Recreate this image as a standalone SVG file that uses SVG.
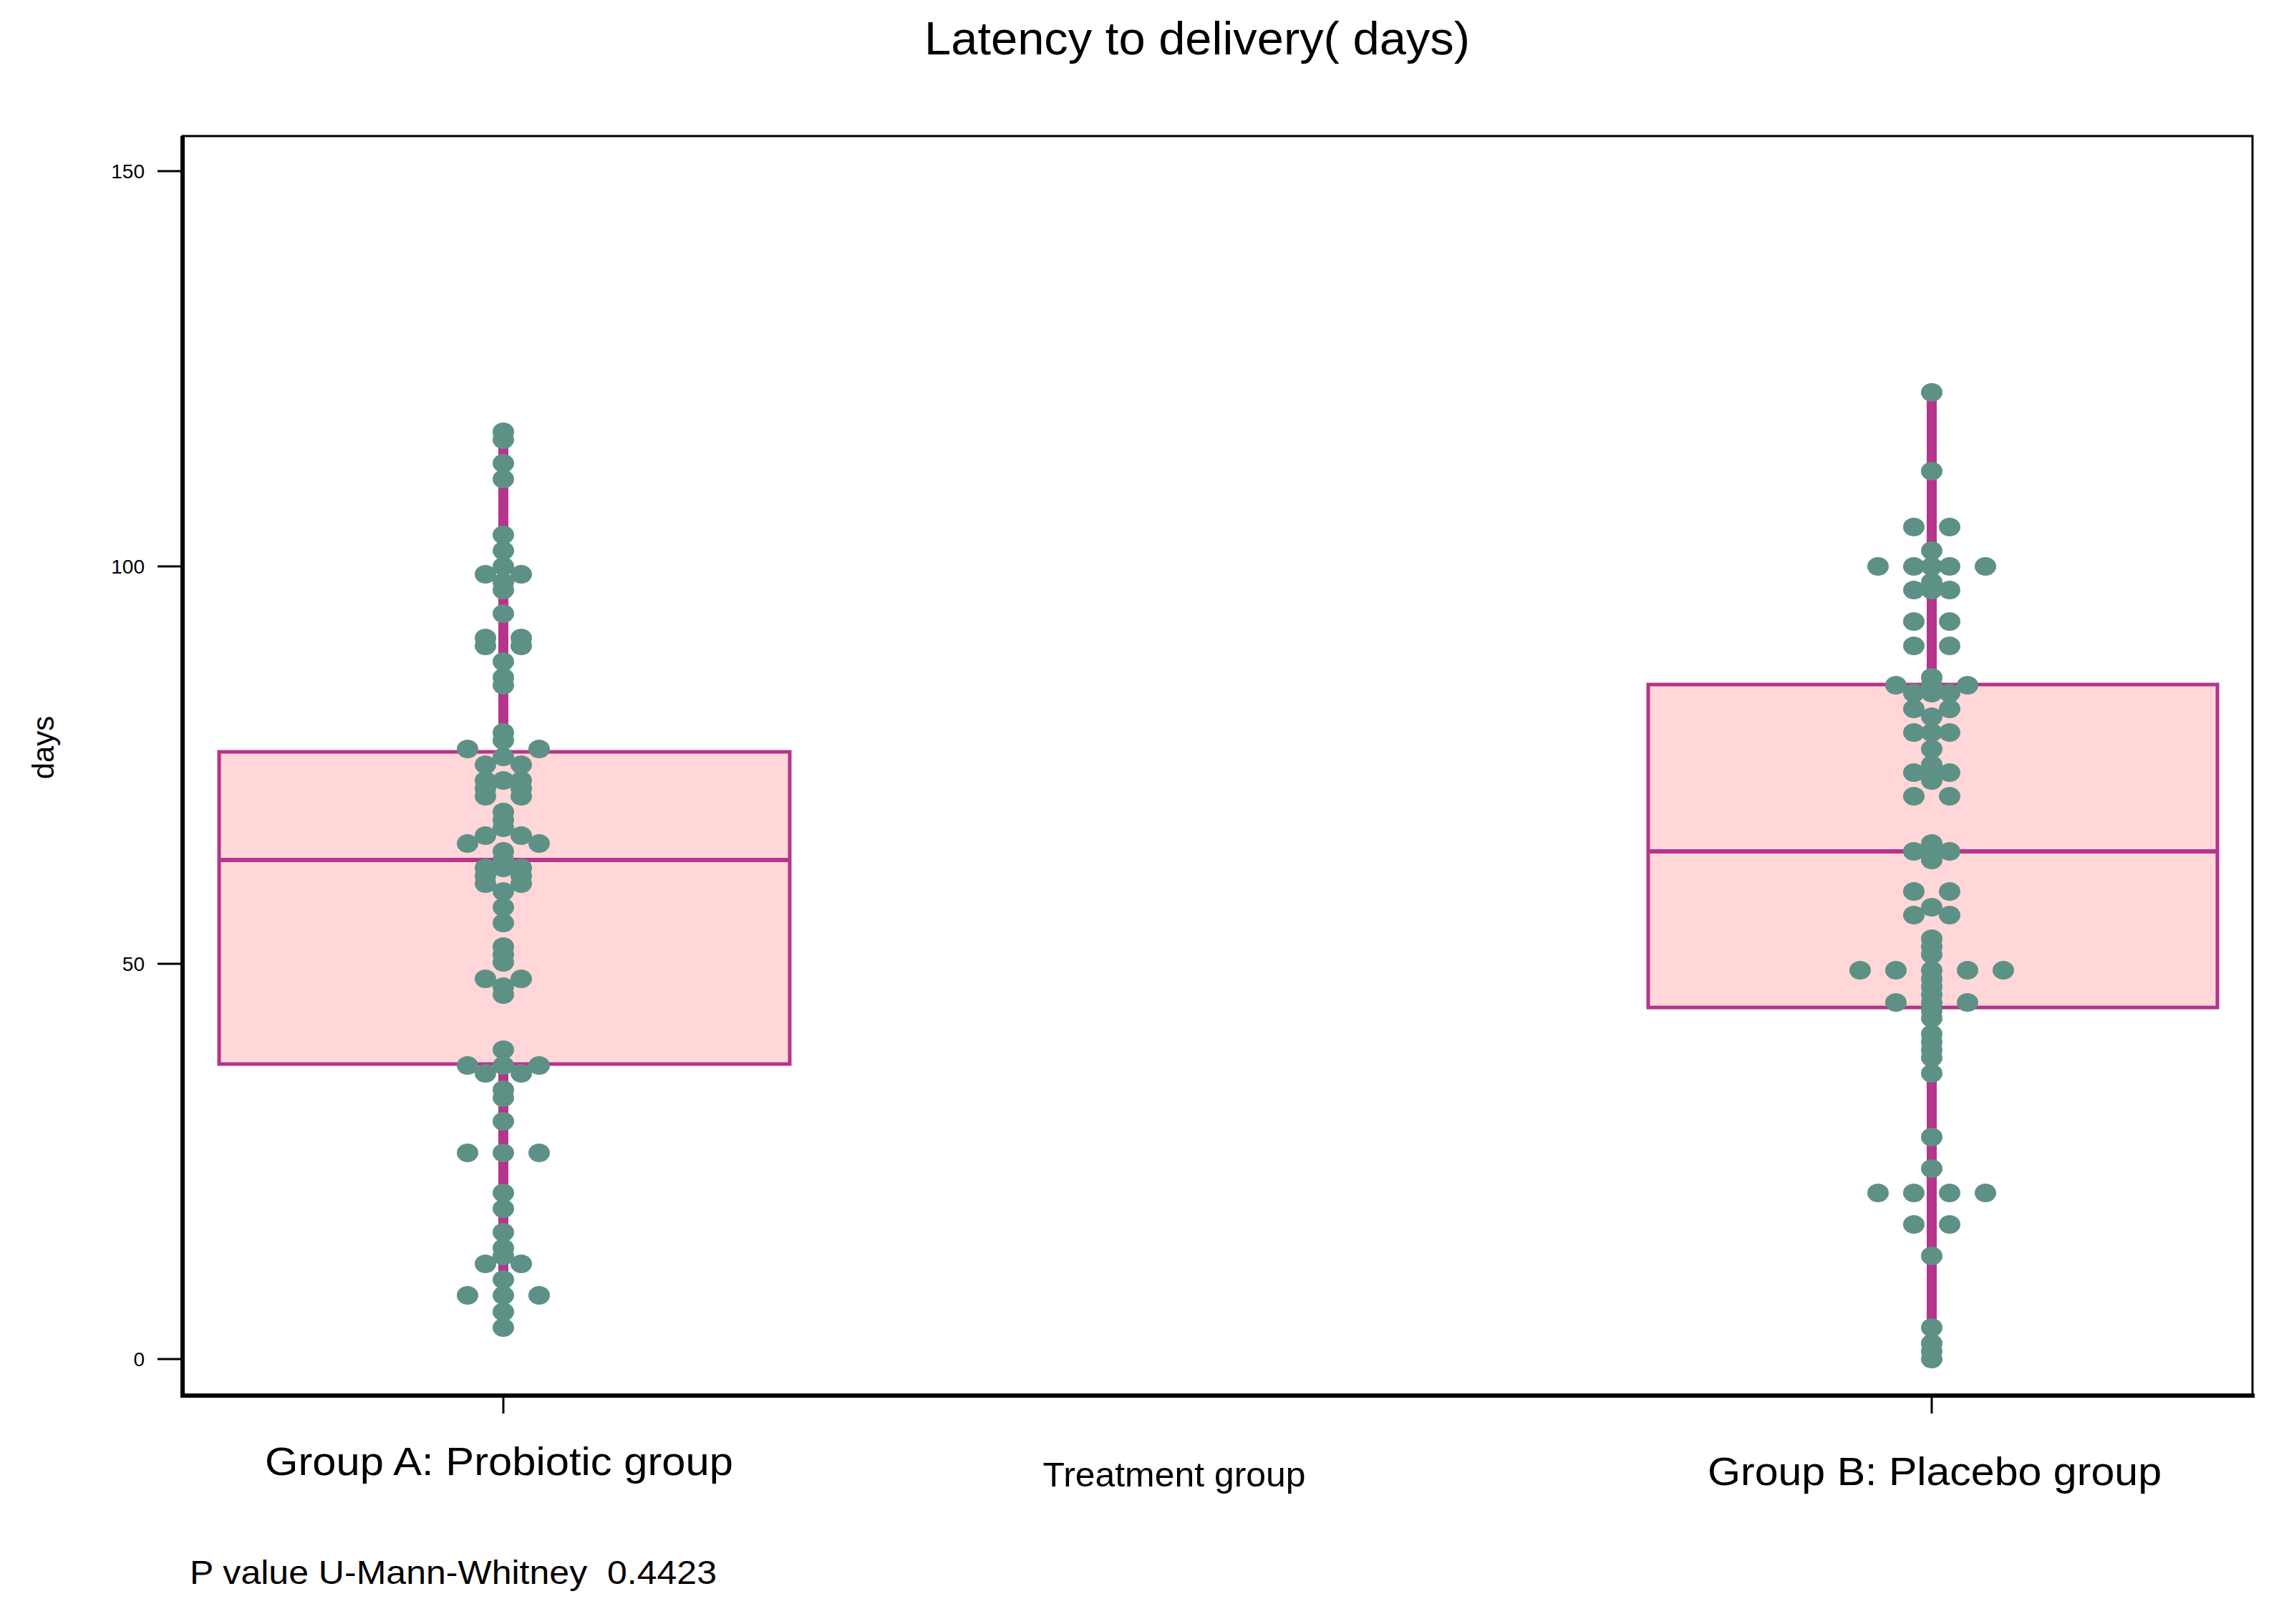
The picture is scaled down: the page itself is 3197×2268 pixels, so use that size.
<svg xmlns="http://www.w3.org/2000/svg" width="3197" height="2268" viewBox="0 0 3197 2268">
<style>
text{font-family:"Liberation Sans",Arial,sans-serif;fill:#000}
.box{fill:#ffd7d9;stroke:#b5348c;stroke-width:5}
.wh{stroke:#b5348c;stroke-width:14}
.med{stroke:#b5348c;stroke-width:6}
.d ellipse{fill:#5e9185}
.ax{stroke:#000;fill:none}
</style>
<rect width="3197" height="2268" fill="#fff"/>
<text x="1672" y="76" font-size="64" text-anchor="middle" textLength="762" lengthAdjust="spacingAndGlyphs">Latency to delivery( days)</text>
<g id="axes">
<rect x="255" y="190" width="2891" height="1759" class="ax" stroke-width="3"/>
<path class="ax" stroke-width="6" d="M255 190V1952M252 1949H3149"/>
<path class="ax" stroke-width="3" d="M220 239H255M220 791H255M220 1346H255M220 1898H255M703 1949V1974M2698 1949V1974"/>
<text font-size="28" text-anchor="end"><tspan x="202" y="249">150</tspan><tspan x="202" y="801">100</tspan><tspan x="202" y="1356">50</tspan><tspan x="202" y="1908">0</tspan></text>
<text font-size="42" text-anchor="middle" transform="translate(75 1044) rotate(-90)">days</text>
</g>
<g id="groupA">
<line class="wh" x1="703" y1="1854" x2="703" y2="603"/>
<rect class="box" x="306" y="1050" width="797" height="436"/>
<line class="med" x1="306" y1="1201" x2="1103" y2="1201"/>
<g class="d">
<ellipse cx="703" cy="603" rx="15" ry="13"/><ellipse cx="703" cy="614" rx="15" ry="13"/><ellipse cx="703" cy="647" rx="15" ry="13"/><ellipse cx="703" cy="669" rx="15" ry="13"/>
<ellipse cx="703" cy="747" rx="15" ry="13"/><ellipse cx="703" cy="769" rx="15" ry="13"/><ellipse cx="703" cy="791" rx="15" ry="13"/><ellipse cx="703" cy="813" rx="15" ry="13"/><ellipse cx="703" cy="824" rx="15" ry="13"/>
<ellipse cx="678" cy="802" rx="15" ry="13"/><ellipse cx="728" cy="802" rx="15" ry="13"/>
<ellipse cx="703" cy="857" rx="15" ry="13"/>
<ellipse cx="678" cy="891" rx="15" ry="13"/><ellipse cx="728" cy="891" rx="15" ry="13"/><ellipse cx="678" cy="902" rx="15" ry="13"/><ellipse cx="728" cy="902" rx="15" ry="13"/>
<ellipse cx="703" cy="924" rx="15" ry="13"/><ellipse cx="703" cy="946" rx="15" ry="13"/><ellipse cx="703" cy="957" rx="15" ry="13"/>
<ellipse cx="703" cy="1023" rx="15" ry="13"/><ellipse cx="703" cy="1034" rx="15" ry="13"/><ellipse cx="703" cy="1057" rx="15" ry="13"/>
<ellipse cx="653" cy="1046" rx="15" ry="13"/><ellipse cx="753" cy="1046" rx="15" ry="13"/>
<ellipse cx="678" cy="1068" rx="15" ry="13"/><ellipse cx="728" cy="1068" rx="15" ry="13"/><ellipse cx="678" cy="1090" rx="15" ry="13"/><ellipse cx="728" cy="1090" rx="15" ry="13"/><ellipse cx="703" cy="1090" rx="15" ry="13"/>
<ellipse cx="678" cy="1101" rx="15" ry="13"/><ellipse cx="728" cy="1101" rx="15" ry="13"/><ellipse cx="678" cy="1112" rx="15" ry="13"/><ellipse cx="728" cy="1112" rx="15" ry="13"/>
<ellipse cx="703" cy="1134" rx="15" ry="13"/><ellipse cx="703" cy="1145" rx="15" ry="13"/><ellipse cx="703" cy="1156" rx="15" ry="13"/>
<ellipse cx="678" cy="1167" rx="15" ry="13"/><ellipse cx="728" cy="1167" rx="15" ry="13"/><ellipse cx="653" cy="1178" rx="15" ry="13"/><ellipse cx="753" cy="1178" rx="15" ry="13"/>
<ellipse cx="703" cy="1189" rx="15" ry="13"/><ellipse cx="703" cy="1201" rx="15" ry="13"/><ellipse cx="703" cy="1212" rx="15" ry="13"/>
<ellipse cx="678" cy="1212" rx="15" ry="13"/><ellipse cx="728" cy="1212" rx="15" ry="13"/><ellipse cx="678" cy="1223" rx="15" ry="13"/><ellipse cx="728" cy="1223" rx="15" ry="13"/><ellipse cx="678" cy="1234" rx="15" ry="13"/><ellipse cx="728" cy="1234" rx="15" ry="13"/>
<ellipse cx="703" cy="1245" rx="15" ry="13"/><ellipse cx="703" cy="1267" rx="15" ry="13"/><ellipse cx="703" cy="1289" rx="15" ry="13"/>
<ellipse cx="703" cy="1322" rx="15" ry="13"/><ellipse cx="703" cy="1333" rx="15" ry="13"/><ellipse cx="703" cy="1344" rx="15" ry="13"/>
<ellipse cx="678" cy="1367" rx="15" ry="13"/><ellipse cx="728" cy="1367" rx="15" ry="13"/><ellipse cx="703" cy="1378" rx="15" ry="13"/><ellipse cx="703" cy="1389" rx="15" ry="13"/>
<ellipse cx="703" cy="1466" rx="15" ry="13"/><ellipse cx="703" cy="1488" rx="15" ry="13"/><ellipse cx="653" cy="1488" rx="15" ry="13"/><ellipse cx="753" cy="1488" rx="15" ry="13"/>
<ellipse cx="678" cy="1499" rx="15" ry="13"/><ellipse cx="728" cy="1499" rx="15" ry="13"/><ellipse cx="703" cy="1522" rx="15" ry="13"/><ellipse cx="703" cy="1533" rx="15" ry="13"/>
<ellipse cx="703" cy="1566" rx="15" ry="13"/><ellipse cx="653" cy="1610" rx="15" ry="13"/><ellipse cx="703" cy="1610" rx="15" ry="13"/><ellipse cx="753" cy="1610" rx="15" ry="13"/>
<ellipse cx="703" cy="1666" rx="15" ry="13"/><ellipse cx="703" cy="1688" rx="15" ry="13"/><ellipse cx="703" cy="1721" rx="15" ry="13"/><ellipse cx="703" cy="1743" rx="15" ry="13"/><ellipse cx="703" cy="1754" rx="15" ry="13"/>
<ellipse cx="678" cy="1765" rx="15" ry="13"/><ellipse cx="728" cy="1765" rx="15" ry="13"/>
<ellipse cx="703" cy="1787" rx="15" ry="13"/><ellipse cx="703" cy="1809" rx="15" ry="13"/><ellipse cx="703" cy="1832" rx="15" ry="13"/><ellipse cx="703" cy="1854" rx="15" ry="13"/>
<ellipse cx="653" cy="1809" rx="15" ry="13"/><ellipse cx="753" cy="1809" rx="15" ry="13"/>
</g>
</g>
<g id="groupB">
<line class="wh" x1="2698" y1="1898" x2="2698" y2="548"/>
<rect class="box" x="2302" y="956" width="795" height="451"/>
<line class="med" x1="2302" y1="1189" x2="3097" y2="1189"/>
<g class="d">
<ellipse cx="2698" cy="548" rx="15" ry="13"/><ellipse cx="2698" cy="658" rx="15" ry="13"/>
<ellipse cx="2673" cy="736" rx="15" ry="13"/><ellipse cx="2723" cy="736" rx="15" ry="13"/><ellipse cx="2698" cy="769" rx="15" ry="13"/>
<ellipse cx="2698" cy="791" rx="15" ry="13"/><ellipse cx="2698" cy="813" rx="15" ry="13"/><ellipse cx="2698" cy="824" rx="15" ry="13"/>
<ellipse cx="2623" cy="791" rx="15" ry="13"/><ellipse cx="2673" cy="791" rx="15" ry="13"/><ellipse cx="2723" cy="791" rx="15" ry="13"/><ellipse cx="2773" cy="791" rx="15" ry="13"/>
<ellipse cx="2673" cy="824" rx="15" ry="13"/><ellipse cx="2723" cy="824" rx="15" ry="13"/>
<ellipse cx="2673" cy="868" rx="15" ry="13"/><ellipse cx="2723" cy="868" rx="15" ry="13"/><ellipse cx="2673" cy="902" rx="15" ry="13"/><ellipse cx="2723" cy="902" rx="15" ry="13"/>
<ellipse cx="2698" cy="946" rx="15" ry="13"/><ellipse cx="2698" cy="957" rx="15" ry="13"/><ellipse cx="2698" cy="968" rx="15" ry="13"/>
<ellipse cx="2648" cy="957" rx="15" ry="13"/><ellipse cx="2748" cy="957" rx="15" ry="13"/>
<ellipse cx="2673" cy="968" rx="15" ry="13"/><ellipse cx="2723" cy="968" rx="15" ry="13"/><ellipse cx="2673" cy="990" rx="15" ry="13"/><ellipse cx="2723" cy="990" rx="15" ry="13"/>
<ellipse cx="2673" cy="1023" rx="15" ry="13"/><ellipse cx="2723" cy="1023" rx="15" ry="13"/>
<ellipse cx="2698" cy="1001" rx="15" ry="13"/><ellipse cx="2698" cy="1023" rx="15" ry="13"/><ellipse cx="2698" cy="1046" rx="15" ry="13"/><ellipse cx="2698" cy="1068" rx="15" ry="13"/><ellipse cx="2698" cy="1079" rx="15" ry="13"/><ellipse cx="2698" cy="1090" rx="15" ry="13"/>
<ellipse cx="2673" cy="1079" rx="15" ry="13"/><ellipse cx="2723" cy="1079" rx="15" ry="13"/><ellipse cx="2673" cy="1112" rx="15" ry="13"/><ellipse cx="2723" cy="1112" rx="15" ry="13"/>
<ellipse cx="2698" cy="1178" rx="15" ry="13"/><ellipse cx="2698" cy="1189" rx="15" ry="13"/><ellipse cx="2698" cy="1201" rx="15" ry="13"/>
<ellipse cx="2673" cy="1189" rx="15" ry="13"/><ellipse cx="2723" cy="1189" rx="15" ry="13"/>
<ellipse cx="2673" cy="1245" rx="15" ry="13"/><ellipse cx="2723" cy="1245" rx="15" ry="13"/><ellipse cx="2698" cy="1267" rx="15" ry="13"/>
<ellipse cx="2673" cy="1278" rx="15" ry="13"/><ellipse cx="2723" cy="1278" rx="15" ry="13"/>
<ellipse cx="2698" cy="1311" rx="15" ry="13"/><ellipse cx="2698" cy="1322" rx="15" ry="13"/><ellipse cx="2698" cy="1333" rx="15" ry="13"/><ellipse cx="2698" cy="1355" rx="15" ry="13"/><ellipse cx="2698" cy="1367" rx="15" ry="13"/><ellipse cx="2698" cy="1378" rx="15" ry="13"/><ellipse cx="2698" cy="1389" rx="15" ry="13"/><ellipse cx="2698" cy="1400" rx="15" ry="13"/><ellipse cx="2698" cy="1411" rx="15" ry="13"/><ellipse cx="2698" cy="1422" rx="15" ry="13"/><ellipse cx="2698" cy="1444" rx="15" ry="13"/><ellipse cx="2698" cy="1455" rx="15" ry="13"/><ellipse cx="2698" cy="1466" rx="15" ry="13"/><ellipse cx="2698" cy="1477" rx="15" ry="13"/><ellipse cx="2698" cy="1499" rx="15" ry="13"/>
<ellipse cx="2598" cy="1355" rx="15" ry="13"/><ellipse cx="2648" cy="1355" rx="15" ry="13"/><ellipse cx="2748" cy="1355" rx="15" ry="13"/><ellipse cx="2798" cy="1355" rx="15" ry="13"/>
<ellipse cx="2648" cy="1400" rx="15" ry="13"/><ellipse cx="2748" cy="1400" rx="15" ry="13"/>
<ellipse cx="2698" cy="1588" rx="15" ry="13"/><ellipse cx="2698" cy="1632" rx="15" ry="13"/>
<ellipse cx="2623" cy="1666" rx="15" ry="13"/><ellipse cx="2673" cy="1666" rx="15" ry="13"/><ellipse cx="2723" cy="1666" rx="15" ry="13"/><ellipse cx="2773" cy="1666" rx="15" ry="13"/>
<ellipse cx="2673" cy="1710" rx="15" ry="13"/><ellipse cx="2723" cy="1710" rx="15" ry="13"/><ellipse cx="2698" cy="1754" rx="15" ry="13"/>
<ellipse cx="2698" cy="1854" rx="15" ry="13"/><ellipse cx="2698" cy="1876" rx="15" ry="13"/><ellipse cx="2698" cy="1887" rx="15" ry="13"/><ellipse cx="2698" cy="1898" rx="15" ry="13"/>
</g>
</g>
<g id="labels">
<text x="697" y="2060" font-size="56" text-anchor="middle" textLength="654" lengthAdjust="spacingAndGlyphs">Group A: Probiotic group</text>
<text x="1640" y="2076" font-size="48" text-anchor="middle" textLength="367" lengthAdjust="spacingAndGlyphs">Treatment group</text>
<text x="2702" y="2074" font-size="56" text-anchor="middle" textLength="634" lengthAdjust="spacingAndGlyphs">Group B: Placebo group</text>
<text x="265" y="2212" font-size="46" xml:space="preserve" textLength="736" lengthAdjust="spacingAndGlyphs">P value U-Mann-Whitney  0.4423</text>
</g>
</svg>
